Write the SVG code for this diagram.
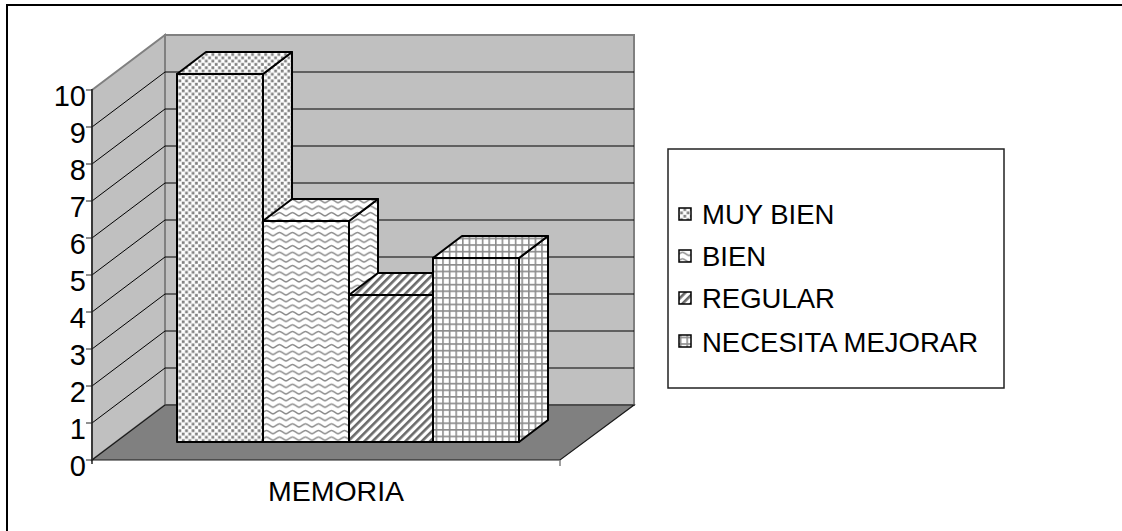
<svg xmlns="http://www.w3.org/2000/svg" width="1122" height="531" viewBox="0 0 1122 531">
<style>
.lbl{font-family:"Liberation Sans",Arial,sans-serif;fill:#000}
.num{font-size:29px;text-anchor:end}
.leg{font-size:27.5px}
.bar{stroke:#000;stroke-width:2;stroke-linejoin:round}
.grid{stroke:#000;stroke-width:1;fill:none}
.wall{fill:#c0c0c0;stroke:#808080;stroke-width:2}
</style>
<defs>
<pattern id="pDots" width="6.6" height="6.6" patternUnits="userSpaceOnUse">
<rect width="6.6" height="6.6" fill="#fff"/>
<rect x="0.3" y="0.3" width="2.8" height="2.8" fill="#808080"/>
<rect x="3.6" y="3.6" width="2.8" height="2.8" fill="#808080"/>
</pattern>
<pattern id="pWave" width="13" height="6.6" patternUnits="userSpaceOnUse">
<rect width="13" height="6.6" fill="#fff"/>
<path d="M0,4.6 C2,4.6 4.5,1.4 6.5,1.4 C8.5,1.4 11,4.6 13,4.6" fill="none" stroke="#8a8a8a" stroke-width="1.5"/>
</pattern>
<pattern id="pDiag" width="5.8" height="5.8" patternUnits="userSpaceOnUse" patternTransform="rotate(45)">
<rect width="5.8" height="5.8" fill="#fff"/>
<rect width="2.6" height="5.8" fill="#6a6a6a"/>
</pattern>
<pattern id="pGrid" width="6.6" height="6.6" patternUnits="userSpaceOnUse">
<rect width="6.6" height="6.6" fill="#fff"/>
<path d="M0.8,0 V6.6 M0,0.8 H6.6" stroke="#8c8c8c" stroke-width="1.6"/>
</pattern>
</defs>
<rect width="1122" height="531" fill="#fff"/>
<rect x="7" y="5" width="1125" height="540" fill="none" stroke="#000" stroke-width="2"/>

<g id="walls">
<polygon class="wall" points="92,90 165,35 165,405 92,460"/>
<rect class="wall" x="165" y="35" width="469" height="370"/>
<polygon points="92,460 165,405 634,405 560,460" fill="#808080" stroke="#1a1a1a" stroke-width="1.2"/>
<line x1="560" y1="460" x2="560" y2="466" stroke="#808080" stroke-width="1.5"/>
</g>

<g id="gridlines">
<path class="grid" d="M165,72 H634 M165,109 H634 M165,146 H634 M165,183 H634 M165,220 H634 M165,257 H634 M165,294 H634 M165,331 H634 M165,368 H634"/>
<path class="grid" d="M92,127 L165,72 M92,164 L165,109 M92,201 L165,146 M92,238 L165,183 M92,275 L165,220 M92,312 L165,257 M92,349 L165,294 M92,386 L165,331 M92,423 L165,368"/>
</g>

<g id="axis">
<line x1="92" y1="89" x2="92" y2="464" stroke="#222" stroke-width="1.5"/>
<path d="M86,90 H92 M86,127 H92 M86,164 H92 M86,201 H92 M86,238 H92 M86,275 H92 M86,312 H92 M86,349 H92 M86,386 H92 M86,423 H92 M86,460 H92" stroke="#222" stroke-width="1.2"/>
<text class="lbl num" x="86" y="106">10</text>
<text class="lbl num" x="86" y="143">9</text>
<text class="lbl num" x="86" y="180">8</text>
<text class="lbl num" x="86" y="217">7</text>
<text class="lbl num" x="86" y="254">6</text>
<text class="lbl num" x="86" y="291">5</text>
<text class="lbl num" x="86" y="328">4</text>
<text class="lbl num" x="86" y="365">3</text>
<text class="lbl num" x="86" y="402">2</text>
<text class="lbl num" x="86" y="439">1</text>
<text class="lbl num" x="86" y="476">0</text>
</g>

<g id="bar-muy-bien" class="bar" fill="url(#pDots)">
<polygon points="263,74 292,52 292,420 263,442"/>
<polygon points="177,74 206,52 292,52 263,74"/>
<rect x="177" y="74" width="86" height="368"/>
</g>
<g id="bar-bien" class="bar" fill="url(#pWave)">
<polygon points="349,221 378,199 378,420 349,442"/>
<polygon points="263,221 292,199 378,199 349,221"/>
<rect x="263" y="221" width="86" height="221"/>
</g>
<g id="bar-regular" class="bar" fill="url(#pDiag)">
<polygon points="433,295 462,273 462,420 433,442"/>
<polygon points="349,295 378,273 462,273 433,295"/>
<rect x="349" y="295" width="84" height="147"/>
</g>
<g id="bar-necesita" class="bar" fill="url(#pGrid)">
<polygon points="519,258 548,236 548,420 519,442"/>
<polygon points="433,258 462,236 548,236 519,258"/>
<rect x="433" y="258" width="86" height="184"/>
</g>

<text class="lbl" x="336" y="501" font-size="28.5" text-anchor="middle">MEMORIA</text>

<g id="legend">
<rect x="668" y="149" width="336" height="239" fill="#fff" stroke="#222" stroke-width="1.5"/>
<rect x="679" y="208" width="12" height="12" fill="url(#pDots)" stroke="#000" stroke-width="1.5"/>
<text class="lbl leg" x="702" y="224">MUY BIEN</text>
<rect x="679" y="250" width="12" height="12" fill="url(#pWave)" stroke="#000" stroke-width="1.5"/>
<text class="lbl leg" x="702" y="266">BIEN</text>
<rect x="679" y="292" width="12" height="12" fill="url(#pDiag)" stroke="#000" stroke-width="1.5"/>
<text class="lbl leg" x="702" y="308">REGULAR</text>
<rect x="679" y="335" width="12" height="12" fill="url(#pGrid)" stroke="#000" stroke-width="1.5"/>
<text class="lbl leg" x="702" y="352">NECESITA MEJORAR</text>
</g>
</svg>
